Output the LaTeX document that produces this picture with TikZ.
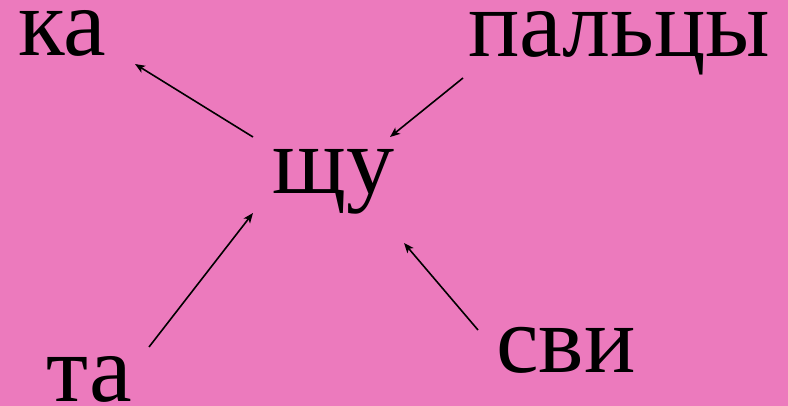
\documentclass[tikz,border=0pt]{standalone}
\usepackage{fontspec}
\setmainfont{Liberation Serif}
\usetikzlibrary{arrows.meta}
\definecolor{pinkbg}{HTML}{EC7ABD}

\begin{document}
\begin{tikzpicture}[
    x=1pt, y=-1pt,
    word/.style={anchor=base west, inner sep=0pt, font=\fontsize{96}{96}\selectfont, text=black},
    arrow/.style={-{Stealth[length=10pt, width=8pt, inset=2.5pt]}, line width=1.6pt, color=black},
]

% --- background ---
\fill[pinkbg] (0,0) rectangle (788,406);
\useasboundingbox (0,0) rectangle (788,406);

% --- Syllables ---
\node[word] (ka) at (18,56) {ка};
\node[word] (paltsy) at (468,57) {пальцы};
\node[word] (shchu) at (272,194) {щу};
\node[word] (ta) at (46,402) {та};
\node[word] (svi) at (496,373) {сви};

% --- Arrow ends ---
\coordinate (kaend) at (135,64);
\coordinate (shchuout) at (253,137);
\coordinate (paltsyout) at (463,78);
\coordinate (shchuin1) at (390,137);
\coordinate (taout) at (149,347);
\coordinate (shchuin2) at (253,213);
\coordinate (sviout) at (478,330);
\coordinate (shchuin3) at (404,243);

% --- Arrows ---
\draw[arrow] (shchuout) -- (kaend);
\draw[arrow] (paltsyout) -- (shchuin1);
\draw[arrow] (taout) -- (shchuin2);
\draw[arrow] (sviout) -- (shchuin3);

\end{tikzpicture}
\end{document}
